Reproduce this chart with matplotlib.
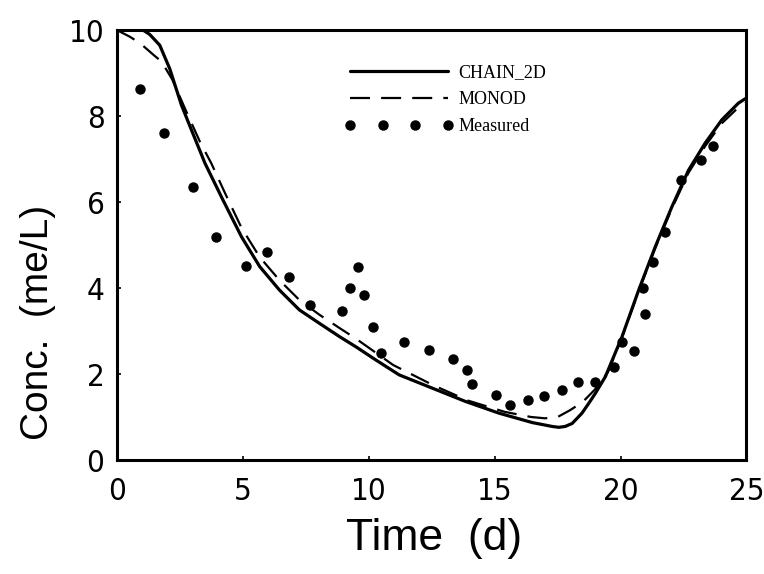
import matplotlib
matplotlib.use("Agg")
import matplotlib.pyplot as plt

# simulated concentration, CHAIN_2D
t_chain = [0, 0.5, 1.04, 1.3, 1.7, 2.1, 2.56, 3.0, 3.5, 4.21, 4.95, 5.67, 6.46,
           7.25, 8.04, 8.84, 9.5, 10.3, 11.21, 12.53, 13.85, 15.17, 16.5, 17.29,
           17.55, 17.8, 18.08, 18.47, 18.74, 19.0, 19.4, 20.06, 20.72, 21.38,
           22.04, 22.7, 23.36, 24.02, 24.68, 25]
c_chain = [10, 10, 10, 9.9, 9.65, 9.1, 8.26, 7.62, 6.9, 6.05, 5.19, 4.5, 3.95,
           3.49, 3.18, 2.87, 2.63, 2.32, 1.98, 1.67, 1.36, 1.09, 0.87, 0.78,
           0.76, 0.78, 0.85, 1.09, 1.32, 1.55, 1.94, 2.87, 3.95, 4.96,
           5.89, 6.74, 7.37, 7.91, 8.3, 8.42]

# simulated concentration, MONOD
t_monod = [0, 0.5, 0.91, 1.5, 1.77, 2.2, 2.76, 3.3, 3.75, 4.3, 4.95, 5.67, 6.46,
           7.25, 8.04, 8.84, 9.5, 10.97, 12.56, 13.95, 15.4, 16.45, 17.0, 17.5,
           18.0, 18.5, 19.0, 19.5, 20.06, 20.72, 21.38, 22.04, 22.7, 23.36,
           24.02, 24.68, 25]
c_monod = [10, 9.85, 9.7, 9.4, 9.27, 8.85, 8.1, 7.4, 6.9, 6.2, 5.4, 4.72, 4.18,
           3.72, 3.38, 3.07, 2.82, 2.21, 1.74, 1.38, 1.12, 1.0, 0.97, 1.0,
           1.16, 1.35, 1.65, 2.05, 2.85, 3.93, 4.93, 5.85, 6.68, 7.3,
           7.83, 8.2, 8.32]

# measured concentration
t_meas = [0.91, 1.86, 3.04, 3.92, 5.14, 5.96, 6.85, 7.65, 8.94, 9.26, 9.57, 9.8,
          10.18, 10.5, 11.41, 12.4, 13.35, 13.92, 14.12, 15.06, 15.62, 16.32,
          16.97, 17.66, 18.32, 19.0, 19.73, 20.05, 20.52, 20.98, 20.89, 21.27,
          21.75, 22.4, 23.19, 23.69]
c_meas = [8.63, 7.61, 6.36, 5.19, 4.51, 4.83, 4.26, 3.6, 3.47, 3.99, 4.49, 3.83,
          3.09, 2.5, 2.75, 2.57, 2.35, 2.09, 1.76, 1.52, 1.29, 1.39,
          1.48, 1.62, 1.81, 1.81, 2.17, 2.75, 2.54, 3.40, 4.01, 4.6,
          5.30, 6.51, 6.98, 7.31]

x_ticks = [0, 5, 10, 15, 20, 25]
y_ticks = [0, 2, 4, 6, 8, 10]

label_font = ["Liberation Sans", "DejaVu Sans"]

fig = plt.figure(figsize=(7.64, 5.74), dpi=100)
ax = fig.add_axes([0.153, 0.1986, 0.824, 0.749])

ax.plot(t_chain, c_chain, color="black", lw=2.3, solid_capstyle="round",
        label="CHAIN_2D")
ax.plot(t_monod, c_monod, color="black", lw=1.6, dashes=(9, 5),
        label="MONOD")
ax.plot(t_meas, c_meas, ls="none", marker="o", ms=6.5, color="black",
        label="Measured")

ax.set_xlim(0, 25)
ax.set_ylim(0, 10)
ax.set_xticks(x_ticks)
ax.set_yticks(y_ticks)
ax.tick_params(direction="in", length=3, width=1.2, top=False, right=False)
ax.tick_params(axis="y", pad=9)
ax.tick_params(axis="x", pad=12)
# tall narrow digits on both axes
for lab in ax.get_xticklabels() + ax.get_yticklabels():
    lab.set_family("DejaVu Sans")
    lab.set_stretch("condensed")
    lab.set_fontsize(22.5)
for sp in ax.spines.values():
    sp.set_linewidth(2.2)

ax.set_xlabel("Time  (d)", family=label_font, fontsize=32)
ax.set_ylabel("Conc.  (me/L)", family=label_font, fontsize=28)
ax.xaxis.set_label_coords(0.504, -0.135)
ax.yaxis.set_label_coords(-0.097, 0.32)

leg = ax.legend(loc="upper left", bbox_to_anchor=(0.362, 0.92), frameon=False,
                numpoints=4, handlelength=6.0, handletextpad=0.3,
                labelspacing=0.55, borderpad=0, borderaxespad=0,
                prop={"family": "Liberation Serif", "size": 13})

fig.savefig("out.png", dpi=100)
